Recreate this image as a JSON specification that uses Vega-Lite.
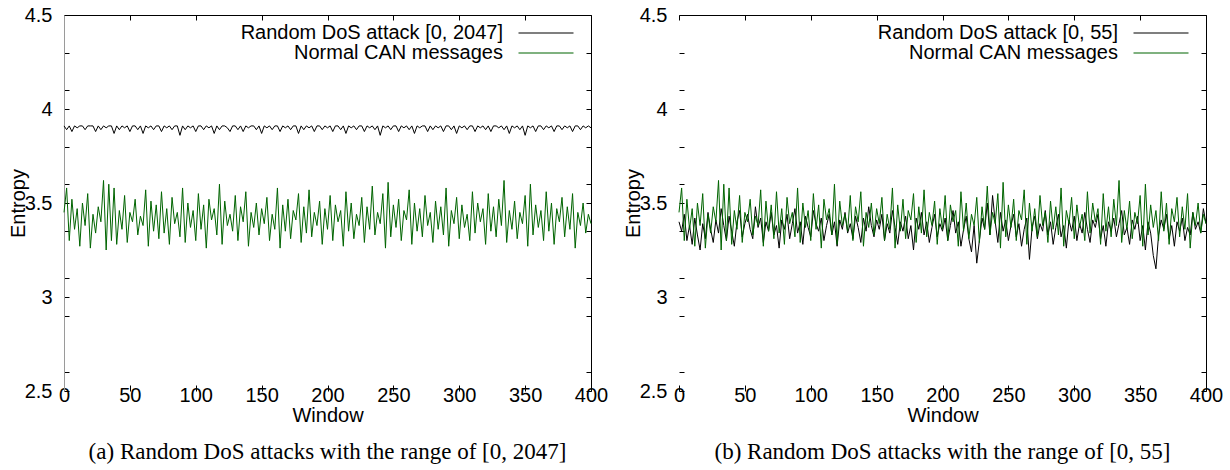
{
  "$schema": "https://vega.github.io/schema/vega-lite/v6.json",
  "padding": {"left": 8, "top": 5, "right": 5, "bottom": 0},
  "background": "white",
  "config": {
    "view": {"stroke": null},
    "font": "Liberation Sans",
    "axis": {"labelFont": "Liberation Sans", "titleFont": "Liberation Sans", "labelColor": "#000", "titleColor": "#000", "labelFontSize": 20, "titleFontSize": 20, "titleFontWeight": "normal", "grid": false, "tickColor": "#000", "labelFlush": false, "labelOverlap": false},
    "legend": {"labelFont": "Liberation Sans", "labelFontSize": 20, "labelColor": "#000"},
    "title": {"font": "Liberation Serif", "fontSize": 23, "fontWeight": "normal", "color": "#000"}
  },
  "data": {"values": [
{"w":0,"a":3.91,"b":3.40,"n":3.45},{"w":2,"a":3.89,"b":3.35,"n":3.58},{"w":4,"a":3.91,"b":3.44,"n":3.30},{"w":6,"a":3.88,"b":3.30,"n":3.52},{"w":8,"a":3.91,"b":3.38,"n":3.36},{"w":10,"a":3.90,"b":3.28,"n":3.47},{"w":12,"a":3.91,"b":3.42,"n":3.27},{"w":14,"a":3.91,"b":3.33,"n":3.50},{"w":16,"a":3.89,"b":3.25,"n":3.38},{"w":18,"a":3.91,"b":3.39,"n":3.55},
{"w":20,"a":3.91,"b":3.31,"n":3.26},{"w":22,"a":3.91,"b":3.45,"n":3.44},{"w":24,"a":3.88,"b":3.36,"n":3.34},{"w":26,"a":3.91,"b":3.29,"n":3.48},{"w":28,"a":3.89,"b":3.41,"n":3.40},{"w":30,"a":3.91,"b":3.34,"n":3.62},{"w":32,"a":3.90,"b":3.47,"n":3.25},{"w":34,"a":3.91,"b":3.38,"n":3.60},{"w":36,"a":3.91,"b":3.30,"n":3.30},{"w":38,"a":3.87,"b":3.43,"n":3.58},
{"w":40,"a":3.91,"b":3.35,"n":3.28},{"w":42,"a":3.89,"b":3.27,"n":3.46},{"w":44,"a":3.91,"b":3.40,"n":3.36},{"w":46,"a":3.90,"b":3.46,"n":3.54},{"w":48,"a":3.91,"b":3.32,"n":3.29},{"w":50,"a":3.88,"b":3.39,"n":3.45},{"w":52,"a":3.91,"b":3.44,"n":3.40},{"w":54,"a":3.91,"b":3.36,"n":3.52},{"w":56,"a":3.89,"b":3.31,"n":3.33},{"w":58,"a":3.91,"b":3.48,"n":3.43},
{"w":60,"a":3.87,"b":3.37,"n":3.38},{"w":62,"a":3.91,"b":3.42,"n":3.57},{"w":64,"a":3.90,"b":3.29,"n":3.27},{"w":66,"a":3.91,"b":3.40,"n":3.51},{"w":68,"a":3.89,"b":3.35,"n":3.35},{"w":70,"a":3.91,"b":3.45,"n":3.49},{"w":72,"a":3.91,"b":3.33,"n":3.31},{"w":74,"a":3.88,"b":3.38,"n":3.56},{"w":76,"a":3.91,"b":3.26,"n":3.34},{"w":78,"a":3.90,"b":3.41,"n":3.47},
{"w":80,"a":3.91,"b":3.36,"n":3.28},{"w":82,"a":3.89,"b":3.44,"n":3.53},{"w":84,"a":3.91,"b":3.31,"n":3.39},{"w":86,"a":3.91,"b":3.39,"n":3.45},{"w":88,"a":3.86,"b":3.47,"n":3.32},{"w":90,"a":3.91,"b":3.34,"n":3.58},{"w":92,"a":3.89,"b":3.40,"n":3.29},{"w":94,"a":3.91,"b":3.28,"n":3.50},{"w":96,"a":3.90,"b":3.43,"n":3.37},{"w":98,"a":3.91,"b":3.37,"n":3.46},
{"w":100,"a":3.88,"b":3.32,"n":3.30},{"w":102,"a":3.91,"b":3.46,"n":3.55},{"w":104,"a":3.91,"b":3.39,"n":3.36},{"w":106,"a":3.89,"b":3.35,"n":3.49},{"w":108,"a":3.91,"b":3.42,"n":3.26},{"w":110,"a":3.90,"b":3.30,"n":3.52},{"w":112,"a":3.91,"b":3.38,"n":3.41},{"w":114,"a":3.87,"b":3.44,"n":3.47},{"w":116,"a":3.91,"b":3.33,"n":3.33},{"w":118,"a":3.89,"b":3.40,"n":3.60},
{"w":120,"a":3.91,"b":3.27,"n":3.28},{"w":122,"a":3.91,"b":3.41,"n":3.51},{"w":124,"a":3.90,"b":3.36,"n":3.38},{"w":126,"a":3.88,"b":3.45,"n":3.44},{"w":128,"a":3.91,"b":3.34,"n":3.35},{"w":130,"a":3.91,"b":3.39,"n":3.54},{"w":132,"a":3.89,"b":3.31,"n":3.30},{"w":134,"a":3.91,"b":3.43,"n":3.48},{"w":136,"a":3.88,"b":3.37,"n":3.40},{"w":138,"a":3.91,"b":3.29,"n":3.56},
{"w":140,"a":3.90,"b":3.42,"n":3.27},{"w":142,"a":3.91,"b":3.35,"n":3.45},{"w":144,"a":3.91,"b":3.48,"n":3.37},{"w":146,"a":3.89,"b":3.38,"n":3.50},{"w":148,"a":3.91,"b":3.32,"n":3.33},{"w":150,"a":3.87,"b":3.41,"n":3.47},{"w":152,"a":3.91,"b":3.36,"n":3.39},{"w":154,"a":3.90,"b":3.44,"n":3.53},{"w":156,"a":3.91,"b":3.30,"n":3.30},{"w":158,"a":3.89,"b":3.39,"n":3.44},
{"w":160,"a":3.91,"b":3.34,"n":3.36},{"w":162,"a":3.91,"b":3.46,"n":3.58},{"w":164,"a":3.88,"b":3.37,"n":3.26},{"w":166,"a":3.91,"b":3.28,"n":3.49},{"w":168,"a":3.90,"b":3.40,"n":3.35},{"w":170,"a":3.91,"b":3.35,"n":3.52},{"w":172,"a":3.89,"b":3.43,"n":3.31},{"w":174,"a":3.91,"b":3.31,"n":3.46},{"w":176,"a":3.91,"b":3.38,"n":3.41},{"w":178,"a":3.87,"b":3.25,"n":3.55},
{"w":180,"a":3.91,"b":3.42,"n":3.29},{"w":182,"a":3.89,"b":3.36,"n":3.48},{"w":184,"a":3.91,"b":3.45,"n":3.34},{"w":186,"a":3.90,"b":3.33,"n":3.57},{"w":188,"a":3.91,"b":3.40,"n":3.32},{"w":190,"a":3.88,"b":3.29,"n":3.45},{"w":192,"a":3.91,"b":3.37,"n":3.38},{"w":194,"a":3.91,"b":3.44,"n":3.51},{"w":196,"a":3.89,"b":3.32,"n":3.28},{"w":198,"a":3.91,"b":3.39,"n":3.47},
{"w":200,"a":3.90,"b":3.35,"n":3.36},{"w":202,"a":3.91,"b":3.42,"n":3.54},{"w":204,"a":3.88,"b":3.30,"n":3.30},{"w":206,"a":3.91,"b":3.38,"n":3.49},{"w":208,"a":3.91,"b":3.46,"n":3.40},{"w":210,"a":3.89,"b":3.34,"n":3.46},{"w":212,"a":3.91,"b":3.40,"n":3.27},{"w":214,"a":3.87,"b":3.27,"n":3.56},{"w":216,"a":3.91,"b":3.36,"n":3.35},{"w":218,"a":3.90,"b":3.43,"n":3.50},
{"w":220,"a":3.91,"b":3.31,"n":3.31},{"w":222,"a":3.89,"b":3.24,"n":3.44},{"w":224,"a":3.91,"b":3.38,"n":3.38},{"w":226,"a":3.91,"b":3.18,"n":3.53},{"w":228,"a":3.88,"b":3.30,"n":3.29},{"w":230,"a":3.91,"b":3.42,"n":3.48},{"w":232,"a":3.90,"b":3.36,"n":3.36},{"w":234,"a":3.91,"b":3.50,"n":3.59},{"w":236,"a":3.89,"b":3.33,"n":3.33},{"w":238,"a":3.91,"b":3.54,"n":3.45},
{"w":240,"a":3.86,"b":3.40,"n":3.39},{"w":242,"a":3.91,"b":3.29,"n":3.55},{"w":244,"a":3.90,"b":3.45,"n":3.26},{"w":246,"a":3.91,"b":3.35,"n":3.61},{"w":248,"a":3.89,"b":3.41,"n":3.32},{"w":250,"a":3.91,"b":3.30,"n":3.49},{"w":252,"a":3.91,"b":3.38,"n":3.37},{"w":254,"a":3.88,"b":3.44,"n":3.52},{"w":256,"a":3.91,"b":3.32,"n":3.30},{"w":258,"a":3.90,"b":3.39,"n":3.46},
{"w":260,"a":3.91,"b":3.27,"n":3.41},{"w":262,"a":3.89,"b":3.36,"n":3.57},{"w":264,"a":3.91,"b":3.42,"n":3.28},{"w":266,"a":3.87,"b":3.20,"n":3.50},{"w":268,"a":3.91,"b":3.37,"n":3.35},{"w":270,"a":3.90,"b":3.43,"n":3.47},{"w":272,"a":3.91,"b":3.31,"n":3.32},{"w":274,"a":3.91,"b":3.39,"n":3.54},{"w":276,"a":3.88,"b":3.35,"n":3.38},{"w":278,"a":3.91,"b":3.46,"n":3.45},
{"w":280,"a":3.89,"b":3.33,"n":3.29},{"w":282,"a":3.91,"b":3.40,"n":3.51},{"w":284,"a":3.90,"b":3.28,"n":3.36},{"w":286,"a":3.91,"b":3.37,"n":3.48},{"w":288,"a":3.88,"b":3.44,"n":3.33},{"w":290,"a":3.91,"b":3.32,"n":3.58},{"w":292,"a":3.91,"b":3.38,"n":3.27},{"w":294,"a":3.89,"b":3.26,"n":3.46},{"w":296,"a":3.91,"b":3.41,"n":3.39},{"w":298,"a":3.87,"b":3.35,"n":3.53},
{"w":300,"a":3.91,"b":3.43,"n":3.31},{"w":302,"a":3.90,"b":3.30,"n":3.49},{"w":304,"a":3.91,"b":3.39,"n":3.37},{"w":306,"a":3.89,"b":3.34,"n":3.44},{"w":308,"a":3.91,"b":3.45,"n":3.30},{"w":310,"a":3.91,"b":3.36,"n":3.56},{"w":312,"a":3.88,"b":3.29,"n":3.34},{"w":314,"a":3.91,"b":3.41,"n":3.50},{"w":316,"a":3.90,"b":3.37,"n":3.40},{"w":318,"a":3.91,"b":3.44,"n":3.47},
{"w":320,"a":3.89,"b":3.31,"n":3.28},{"w":322,"a":3.91,"b":3.38,"n":3.55},{"w":324,"a":3.88,"b":3.27,"n":3.35},{"w":326,"a":3.91,"b":3.40,"n":3.48},{"w":328,"a":3.91,"b":3.35,"n":3.32},{"w":330,"a":3.90,"b":3.42,"n":3.52},{"w":332,"a":3.91,"b":3.32,"n":3.38},{"w":334,"a":3.89,"b":3.39,"n":3.62},{"w":336,"a":3.91,"b":3.46,"n":3.29},{"w":338,"a":3.87,"b":3.33,"n":3.46},
{"w":340,"a":3.91,"b":3.37,"n":3.36},{"w":342,"a":3.90,"b":3.28,"n":3.51},{"w":344,"a":3.91,"b":3.41,"n":3.31},{"w":346,"a":3.89,"b":3.36,"n":3.45},{"w":348,"a":3.91,"b":3.43,"n":3.39},{"w":350,"a":3.86,"b":3.30,"n":3.54},{"w":352,"a":3.91,"b":3.38,"n":3.27},{"w":354,"a":3.90,"b":3.25,"n":3.60},{"w":356,"a":3.91,"b":3.40,"n":3.33},{"w":358,"a":3.88,"b":3.34,"n":3.49},
{"w":360,"a":3.91,"b":3.22,"n":3.37},{"w":362,"a":3.91,"b":3.15,"n":3.46},{"w":364,"a":3.89,"b":3.33,"n":3.30},{"w":366,"a":3.91,"b":3.41,"n":3.56},{"w":368,"a":3.90,"b":3.36,"n":3.35},{"w":370,"a":3.91,"b":3.44,"n":3.50},{"w":372,"a":3.88,"b":3.31,"n":3.28},{"w":374,"a":3.91,"b":3.38,"n":3.47},{"w":376,"a":3.91,"b":3.27,"n":3.40},{"w":378,"a":3.89,"b":3.40,"n":3.53},
{"w":380,"a":3.91,"b":3.35,"n":3.32},{"w":382,"a":3.90,"b":3.42,"n":3.48},{"w":384,"a":3.91,"b":3.30,"n":3.36},{"w":386,"a":3.88,"b":3.37,"n":3.55},{"w":388,"a":3.91,"b":3.33,"n":3.26},{"w":390,"a":3.91,"b":3.45,"n":3.45},{"w":392,"a":3.89,"b":3.36,"n":3.38},{"w":394,"a":3.91,"b":3.40,"n":3.50},{"w":396,"a":3.90,"b":3.34,"n":3.34},{"w":398,"a":3.91,"b":3.47,"n":3.44},
{"w":400,"a":3.90,"b":3.39,"n":3.39}
  ]},
  "spacing": 15,
  "resolve": {"scale": {"color": "independent"}, "legend": {"color": "independent"}},
  "hconcat": [
    {
      "width": 527, "height": 376,
      "title": {"text": "(a) Random DoS attacks with the range of [0, 2047]", "orient": "bottom", "anchor": "middle", "offset": 16},
      "resolve": {"axis": {"x": "independent", "y": "independent"}},
      "layer": [
        {
          "mark": {"type": "line", "strokeWidth": 1, "interpolate": "linear"},
          "encoding": {
            "x": {"field": "w", "type": "quantitative", "scale": {"domain": [0, 400], "nice": false},
                  "axis": {"orient": "bottom", "values": [0,50,100,150,200,250,300,350,400], "domain": false, "tickSize": -6, "labelPadding": 0, "title": "Window", "titlePadding": 0}},
            "y": {"field": "a", "type": "quantitative", "scale": {"domain": [2.5, 4.5], "nice": false, "zero": false},
                  "axis": {"orient": "left", "values": [2.5,2.6,2.9,3,3.1,3.35,3.5,3.6,3.8,4,4.1,4.3,4.5], "format": ".1~f", "labelExpr": "datum.value*2 == round(datum.value*2) ? datum.label : ''", "domainColor": "#9a9a9a", "tickSize": -5, "labelPadding": 17, "title": "Entropy", "titlePadding": -4}},
            "color": {"datum": "Random DoS attack [0, 2047]", "type": "nominal",
                      "scale": {"domain": ["Random DoS attack [0, 2047]", "Normal CAN messages"], "range": ["#000000", "#006400"]},
                      "legend": {"orient": "none", "legendX": 472, "legendY": 8, "title": null, "symbolType": "M-5,0H5", "symbolSize": 121, "symbolStrokeWidth": 1.2, "labelAlign": "right", "labelOffset": -53, "rowPadding": 0, "padding": 0, "labelLimit": 0}}
          }
        },
        {
          "mark": {"type": "line", "strokeWidth": 1, "interpolate": "linear"},
          "encoding": {
            "x": {"field": "w", "type": "quantitative",
                  "axis": {"orient": "top", "values": [0,50,100,150,200,250,300,350,400], "labels": false, "domainColor": "#000", "tickSize": -5, "title": null}},
            "y": {"field": "n", "type": "quantitative",
                  "axis": {"orient": "right", "values": [2.5,2.6,2.9,3,3.1,3.35,3.5,3.6,3.8,4,4.1,4.3,4.5], "labels": false, "domainColor": "#000", "tickSize": -5, "title": null}},
            "color": {"datum": "Normal CAN messages", "type": "nominal"}
          }
        }
      ]
    },
    {
      "width": 527, "height": 376,
      "title": {"text": "(b) Random DoS attacks with the range of [0, 55]", "orient": "bottom", "anchor": "middle", "offset": 16},
      "resolve": {"axis": {"x": "independent", "y": "independent"}},
      "layer": [
        {
          "mark": {"type": "line", "strokeWidth": 1, "interpolate": "linear"},
          "encoding": {
            "x": {"field": "w", "type": "quantitative", "scale": {"domain": [0, 400], "nice": false},
                  "axis": {"orient": "bottom", "values": [0,50,100,150,200,250,300,350,400], "domain": false, "tickSize": -6, "labelPadding": 0, "title": "Window", "titlePadding": 0}},
            "y": {"field": "b", "type": "quantitative", "scale": {"domain": [2.5, 4.5], "nice": false, "zero": false},
                  "axis": {"orient": "left", "values": [2.5,2.6,2.9,3,3.1,3.35,3.5,3.6,3.8,4,4.1,4.3,4.5], "format": ".1~f", "labelExpr": "datum.value*2 == round(datum.value*2) ? datum.label : ''", "domain": false, "tickSize": -5, "labelPadding": 17, "title": "Entropy", "titlePadding": -4}},
            "color": {"datum": "Random DoS attack [0, 55]", "type": "nominal",
                      "scale": {"domain": ["Random DoS attack [0, 55]", "Normal CAN messages"], "range": ["#000000", "#006400"]},
                      "legend": {"orient": "none", "legendX": 472, "legendY": 8, "title": null, "symbolType": "M-5,0H5", "symbolSize": 121, "symbolStrokeWidth": 1.2, "labelAlign": "right", "labelOffset": -53, "rowPadding": 0, "padding": 0, "labelLimit": 0}}
          }
        },
        {
          "mark": {"type": "line", "strokeWidth": 1, "interpolate": "linear"},
          "encoding": {
            "x": {"field": "w", "type": "quantitative",
                  "axis": {"orient": "top", "values": [0,50,100,150,200,250,300,350,400], "labels": false, "domainColor": "#000", "tickSize": -5, "title": null}},
            "y": {"field": "n", "type": "quantitative",
                  "axis": {"orient": "right", "values": [2.5,2.6,2.9,3,3.1,3.35,3.5,3.6,3.8,4,4.1,4.3,4.5], "labels": false, "domainColor": "#000", "tickSize": -5, "title": null}},
            "color": {"datum": "Normal CAN messages", "type": "nominal"}
          }
        }
      ]
    }
  ]
}
